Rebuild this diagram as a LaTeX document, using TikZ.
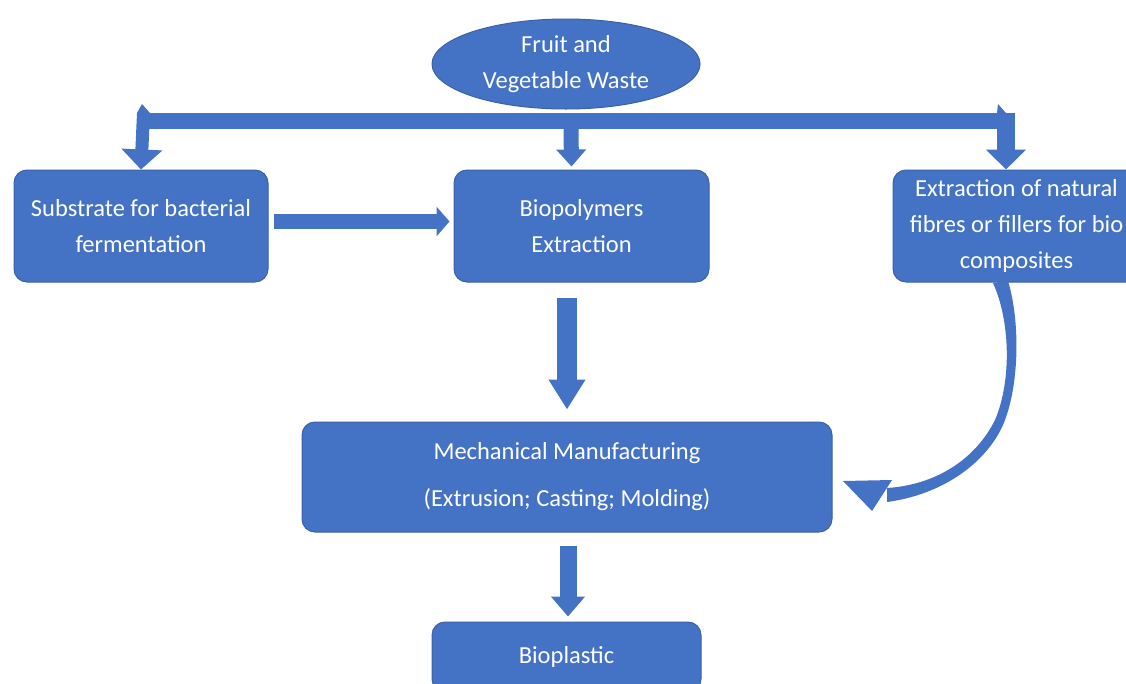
\documentclass[tikz,border=0pt]{standalone}
\usepackage{fontspec}
\setmainfont{Carlito}
\usetikzlibrary{shapes.geometric,arrows.meta,calc}
\definecolor{obox}{HTML}{4472C4}
\definecolor{oedge}{HTML}{3A62A8}
\tikzset{
  box/.style={draw=oedge, line width=1pt, fill=obox, rounded corners=13pt, text=white,
    align=center, inner sep=0pt, font=\fontsize{24.5}{36}\selectfont},
  blk/.style={obox, line width=#1},
  vtip/.style args={#1/#2}{-{Triangle[width=#1,length=#2]}},
}
\begin{document}
\begin{tikzpicture}[x=1pt,y=-1pt]
\useasboundingbox (0,0) rectangle (1126,683);
\clip (0,0) rectangle (1126,683);
% nodes
\node[box, ellipse, rounded corners=0pt, minimum width=268pt, minimum height=90pt] (waste) at (566,64) {Fruit and\\Vegetable Waste};
\node[box, minimum width=254pt, minimum height=112pt] (sub) at (141,226) {Substrate for bacterial\\fermentation};
\node[box, minimum width=255pt, minimum height=112pt] (bio) at (581.5,226) {Biopolymers\\Extraction};
\node[box, minimum width=247pt, minimum height=112pt] (fib) at (1016.5,226) {Extraction of natural\\fibres or fillers for bio\\composites};
\node[box, minimum width=530pt, minimum height=110pt] (mech) at (567,477) {Mechanical Manufacturing\\[11pt](Extrusion; Casting; Molding)};
\node[box, minimum width=269pt, minimum height=70pt] (plast) at (566.5,657) {Bioplastic};
% distribution bar
\coordinate (barL) at (143.5,121);
\coordinate (barM) at (571,121);
\coordinate (barR) at (1006,121);
\draw[blk=16pt] (137,121) -- (1015,121);
\fill[obox] (137,113) -- (142,104) -- (150,113) -- cycle;
\fill[obox] (997,113) -- (998,104) -- (1006,113) -- cycle;
\draw[blk=13pt, vtip={40pt/20pt}] (barL |- 0,113) -- (sub.north);
\draw[blk=15pt, vtip={29pt/17pt}] (barM |- 0,129) -- ($(bio.north)+(-10,-3)$);
\draw[blk=18pt, vtip={39pt/20pt}] (barR |- 0,113) -- (barR |- fib.north);
% horizontal arrow
\draw[blk=15pt, vtip={29pt/13pt}] ($(sub.east)+(5,-4.5)$) -- ($(bio.west)+(-4,-4.5)$);
% down arrows
\draw[blk=20pt, vtip={35pt/30pt}] (mech.north |- 0,298) -- ($(mech.north)+(0,-12)$);
\draw[blk=17pt, vtip={33pt/20pt}] ($(mech.south)+(1,13)$) -- ($(plast.north)+(1.5,-5)$);
% curved arrow from fibres to manufacturing
\fill[obox] (993,283) .. controls (1010,320) and (1012,380) .. (995,420)
  .. controls (975,460) and (935,485) .. (887,488)
  -- (887,502) .. controls (940,495) and (985,465) .. (1003,425)
  .. controls (1020,385) and (1020,320) .. (1008,281) -- cycle;
\fill[obox] (843,481) -- (892,480) -- (872,511) -- cycle;
\end{tikzpicture}
\end{document}
